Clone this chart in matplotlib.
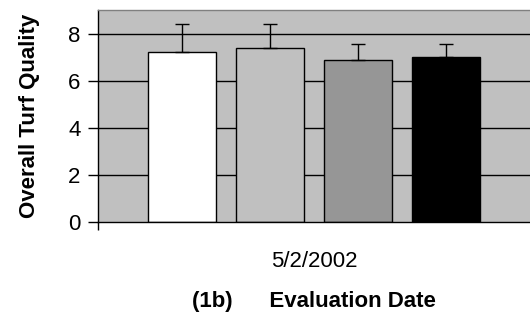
import matplotlib.pyplot as plt

plt.rcParams['font.family'] = ['Liberation Sans', 'DejaVu Sans']

treatments = ["T1", "T2", "T3", "T4"]
quality = [7.23, 7.40, 6.88, 7.00]
err_up = [1.18, 1.01, 0.69, 0.57]
colors = ["#FFFFFF", "#C0C0C0", "#969696", "#000000"]
date_label = "5/2/2002"

fig = plt.figure(figsize=(5.30, 3.21), dpi=100)
ax = fig.add_axes([0.1849, 0.3093, 0.8151, 0.6595])
ax.set_facecolor("#C0C0C0")

width = 0.157
step = 0.204
xs = [(i - 1.5) * step for i in range(len(quality))]

for y in [2, 4, 6, 8]:
    ax.axhline(y, color="black", lw=1.0, zorder=1)

ax.bar(xs, quality, width=width, color=colors, edgecolor="black", linewidth=1.0, zorder=2,
       yerr=[[0] * 4, err_up], error_kw=dict(ecolor="black", elinewidth=1.0, capsize=5, capthick=1.0, zorder=3))

ax.set_xlim(-0.5, 0.5)
ax.set_ylim(0, 9)
ax.set_yticks([0, 2, 4, 6, 8])
ax.tick_params(axis="y", direction="out", length=7.5, width=1, labelsize=16, pad=5)

ax.set_xticks([-0.5])
ax.set_xticklabels([""])
ax.tick_params(axis="x", which="major", direction="out", length=6, width=1)
ax.set_xticks([0], minor=True)
ax.set_xticklabels([date_label], minor=True)
ax.tick_params(axis="x", which="minor", length=0, labelsize=16, pad=21)

for s in ["left", "bottom"]:
    ax.spines[s].set_color("black")
    ax.spines[s].set_linewidth(1.0)
ax.spines["top"].set_color("#808080")
ax.spines["top"].set_linewidth(1.0)
ax.spines["right"].set_visible(False)

ax.set_ylabel("Overall Turf Quality", fontsize=16, fontweight="bold", labelpad=20)
ax.set_xlabel("(1b)      Evaluation Date", fontsize=16, fontweight="bold", labelpad=14)

fig.savefig("out.png", dpi=100)
